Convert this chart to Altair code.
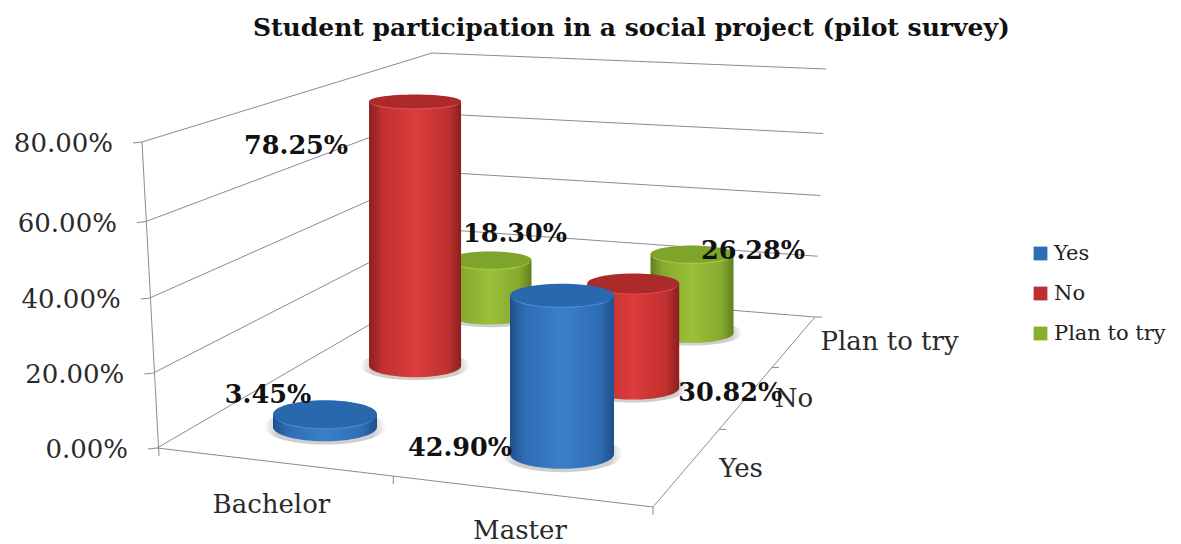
import altair as alt
import numpy as np
import pandas as pd

# ---- chart values -------------------------------------------------------
title_text = "Student participation in a social project (pilot survey)"
categories = ["Bachelor", "Master"]
series = ["Yes", "No", "Plan to try"]
yes_values = [3.45, 42.90]
no_values = [78.25, 30.82]
plan_values = [18.30, 26.28]
value_ticks = [0, 20, 40, 60, 80]

# ---- look and layout ----------------------------------------------------
FONT = "DejaVu Serif"
GRID = "#8c8c8c"
body_stops = {
    "Yes": ["#1f4f8c", "#2e6db3", "#3a80c9", "#2e6db3", "#1f4f8c"],
    "No": ["#8a1f1f", "#c03030", "#dc3c3c", "#c03030", "#8a1f1f"],
    "Plan to try": ["#5f801f", "#84a92e", "#9bc03a", "#84a92e", "#5f801f"],
}
top_colors = {"Yes": "#2a68ad", "No": "#ad2a2a", "Plan to try": "#7fa42b"}
rim_colors = {"Yes": "#4a8fd6", "No": "#e04a4a", "Plan to try": "#a6cc44"}
legend_colors = ["#2c6db3", "#bf2f2f", "#88ae2e"]
row_radius = [52, 46, 41.5]
row_px_per_pct = [3.7, 3.38, 3.0]
label_offsets = {
    ("Bachelor", "Yes"): (-57, -19), ("Master", "Yes"): (-102, 153),
    ("Bachelor", "No"): (-119, 45), ("Master", "No"): (97, 109),
    ("Bachelor", "Plan to try"): (25, -26), ("Master", "Plan to try"): (61, -3),
}
ELL = "M-1,0A1,{r},0,1,1,1,0A1,{r},0,1,1,-1,0Z"


def homography(corners):
    src = [(0, 0), (1, 0), (1, 1), (0, 1)]
    a, b = [], []
    for (u, v), (x, y) in zip(src, corners):
        a.append([u, v, 1, 0, 0, 0, -u * x, -v * x]); b.append(x)
        a.append([0, 0, 0, u, v, 1, -u * y, -v * y]); b.append(y)
    h = np.linalg.solve(np.array(a, float), np.array(b, float))
    def f(u, v):
        w = h[6] * u + h[7] * v + 1
        return (h[0] * u + h[1] * v + h[2]) / w, (h[3] * u + h[4] * v + h[5]) / w
    return f


floor = homography([(157, 448), (653, 507), (815, 317), (436, 286)])
cyl_floor = homography([(325, 427), (562, 454), (692, 333), (490, 315)])
wall_bottom = {"left": (157, 448), "back": (436, 286), "right": (815, 317)}
wall_top = {"left": (142, 142), "back": (432, 53), "right": (826, 69)}


def wall(pos, level):
    f = float(np.interp(level, value_ticks, [0, 0.245, 0.49, 0.74, 1]))
    (x0, y0), (x1, y1) = wall_bottom[pos], wall_top[pos]
    return x0 + (x1 - x0) * f, y0 + (y1 - y0) * f


# ---- scales map the projected scene to the picture -----------------------
PAD_TOP = 40
W, H = 1165, 536 - PAD_TOP
sx = alt.Scale(domain=[8, 8 + W], range=[0, W], nice=False, zero=False)
sy = alt.Scale(domain=[8 + PAD_TOP + H, 8 + PAD_TOP], range=[H, 0], nice=False, zero=False)
X = alt.X("x:Q", scale=sx, axis=None)
Y = alt.Y("y:Q", scale=sy, axis=None)

segs = []
for lv in value_ticks:
    lx, ly = wall("left", lv)
    bx, by = wall("back", lv)
    rx_, ry_ = wall("right", lv)
    segs.append(dict(x=lx, y=ly, x2=bx, y2=by))
    segs.append(dict(x=bx, y=by, x2=rx_, y2=ry_))
    segs.append(dict(x=lx - 9, y=ly + 1, x2=lx, y2=ly))
segs.append(dict(x=wall("left", 80)[0], y=wall("left", 80)[1], x2=159, y2=456))
for u in [0.5, 1]:
    fx, fy = floor(u, 0)
    segs.append(dict(x=fx, y=fy, x2=fx, y2=fy + 8))
segs.append(dict(x=floor(0, 0)[0], y=floor(0, 0)[1], x2=floor(1, 0)[0], y2=floor(1, 0)[1]))
segs.append(dict(x=floor(1, 0)[0], y=floor(1, 0)[1], x2=floor(1, 1)[0], y2=floor(1, 1)[1]))
for v in [1 / 3, 2 / 3, 1]:
    fx, fy = floor(1, v)
    segs.append(dict(x=fx, y=fy, x2=fx + 7, y2=fy))

grid = (
    alt.Chart(pd.DataFrame(segs))
    .mark_rule(color=GRID, strokeWidth=1)
    .encode(X, Y, x2="x2:Q", y2="y2:Q")
)

values = {"Yes": yes_values, "No": no_values, "Plan to try": plan_values}


def ratio(yy):
    return 0.15 + 0.00039 * (yy - 110)


cyl = []
for j in reversed(range(len(series))):   # back rows are painted first
    s = series[j]
    for i, c in enumerate(categories):
        bx, by = cyl_floor(i, j / 2)
        h_ = values[s][i] * row_px_per_pct[j]
        r = row_radius[j]
        cyl.append(dict(cat=c, ser=s, v=values[s][i], x=bx, base=by, top=by - h_, r=r,
                        rb=ratio(by), rt=ratio(by - h_)))
cdf = pd.DataFrame(cyl)


def ellipse(row, y, ratio_, paint, grow=0.0):
    df = pd.DataFrame([dict(x=row["x"], y=y)])
    size = (2 * (row["r"] + grow)) ** 2
    return (
        alt.Chart(df)
        .mark_point(shape=ELL.format(r=round(ratio_, 3)), size=size, filled=True,
                    fill=paint, opacity=1, strokeWidth=0)
        .encode(X, Y)
    )


def hgrad(cols):
    offs = [0, 0.14, 0.5, 0.86, 1]
    return alt.LinearGradient(
        gradient="linear", x1=0, x2=1, y1=0, y2=0,
        stops=[alt.GradientStop(color=c, offset=o) for c, o in zip(cols, offs)],
    )


shadow_paint = alt.RadialGradient(
    gradient="radial",
    stops=[alt.GradientStop(color="#cfcfcf", offset=0.8), alt.GradientStop(color="#ffffff", offset=1)],
)

layers = [grid]

# legend carrier: tiny marks hidden beneath the cylinders
layers.append(
    alt.Chart(cdf.assign(y=cdf["base"]))
    .mark_square(size=1, opacity=1)
    .encode(
        X, Y,
        color=alt.Color(
            "ser:N",
            scale=alt.Scale(domain=series, range=legend_colors),
            legend=alt.Legend(
                title=None, orient="none", legendX=1022, legendY=195, padding=0,
                symbolType="square", symbolSize=190, symbolStrokeWidth=0,
                labelFont=FONT, labelFontSize=21, labelColor="#222222",
                labelOffset=3, rowPadding=18, labelLimit=200,
            ),
        ),
    )
)

for _, row in cdf.iterrows():
    layers.append(ellipse(row, row["base"], row["rb"] * 1.05, shadow_paint, grow=9))

for _, row in cdf.iterrows():
    paint = hgrad(body_stops[row["ser"]])
    layers.append(ellipse(row, row["base"], row["rb"], paint))
    body = pd.DataFrame([dict(x=row["x"] - row["r"], x2=row["x"] + row["r"], y=row["top"], y2=row["base"])])
    layers.append(alt.Chart(body).mark_rect(fill=paint, opacity=1).encode(X, Y, x2="x2:Q", y2="y2:Q"))
    layers.append(ellipse(row, row["top"] + 1.5, row["rt"], rim_colors[row["ser"]], grow=-1.5))
    layers.append(ellipse(row, row["top"], row["rt"], top_colors[row["ser"]]))

# value axis labels
vt = pd.DataFrame([
    dict(x=wall("left", lv)[0] - 29, y=wall("left", lv)[1] + 2, t=f"{lv:.2f}%") for lv in value_ticks
])
layers.append(
    alt.Chart(vt).mark_text(font=FONT, fontSize=26, align="right", baseline="middle", color="#2a2a2a")
    .encode(X, Y, text="t:N")
)

# category and series axis labels
cat_offsets = [(-1, 43), (0, 40)]
ct = pd.DataFrame([
    dict(x=floor(0.25 + 0.5 * i, 0)[0] + cat_offsets[i][0], y=floor(0.25 + 0.5 * i, 0)[1] + cat_offsets[i][1], t=c)
    for i, c in enumerate(categories)
])
ser_offsets = [(53, 3), (47, 2), (95, 1)]
st = pd.DataFrame([
    dict(x=floor(1, (j + 0.5) / 3)[0] + ser_offsets[j][0], y=floor(1, (j + 0.5) / 3)[1] + ser_offsets[j][1], t=s)
    for j, s in enumerate(series)
])
for df_, size in [(ct, 26), (st, 26)]:
    layers.append(
        alt.Chart(df_).mark_text(font=FONT, fontSize=size, align="center", baseline="middle", color="#2a2a2a")
        .encode(X, Y, text="t:N")
    )

# data labels
dl = pd.DataFrame([
    dict(x=r["x"] + label_offsets[(r["cat"], r["ser"])][0],
         y=r["top"] + label_offsets[(r["cat"], r["ser"])][1],
         t=f"{r['v']:.2f}%")
    for _, r in cdf.iterrows()
])
layers.append(
    alt.Chart(dl).mark_text(font=FONT, fontSize=25.5, fontWeight="bold", align="center", baseline="middle", color="#111111")
    .encode(X, Y, text="t:N")
)

chart = (
    alt.layer(*layers)
    .properties(
        width=W, height=H,
        padding={"left": 0, "top": PAD_TOP, "right": 0, "bottom": 0},
        autosize=alt.AutoSizeParams(type="none"),
        background="white",
        title=alt.TitleParams(
            title_text, anchor="start", frame="group", dx=245, offset=7,
            font=FONT, fontSize=25, fontWeight="bold", color="#111111",
        ),
    )
    .configure_view(stroke=None)
)

chart.save("out.html", embed_options={"renderer": "svg", "actions": False})
